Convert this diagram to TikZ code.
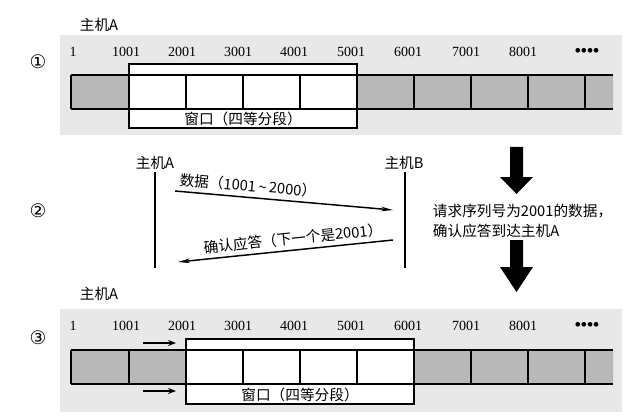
\documentclass[tikz,border=0pt]{standalone}
\usepackage{fontspec}
\setmainfont{Liberation Serif}
\newfontfamily\cjk{Noto Sans CJK SC}
\newfontfamily\sym{DejaVu Sans}
\usetikzlibrary{arrows.meta}
\begin{document}
\begin{tikzpicture}[x=0.75pt,y=-0.75pt,line width=0.9pt,
  bg/.style={fill=black!9},
  used/.style={fill=black!28},
  win/.style={draw,fill=white},
  lbl/.style={font=\cjk\fontsize{11}{13}\selectfont,inner sep=1pt},
  seq/.style={font=\fontsize{10.5}{12}\selectfont,inner sep=1pt},
  stage/.style={font=\sym\fontsize{14}{16}\selectfont,inner sep=1pt},
  dots/.style={font=\bfseries\fontsize{13}{15}\selectfont,inner sep=1pt},
  msg/.style={line width=1.1pt,-{Stealth[length=9pt,width=3.5pt]}},
  slidearrow/.style={line width=1.3pt,-{Stealth[length=6pt,width=4.5pt]}}]
\useasboundingbox (0,0) rectangle (638,417);
% 1: window at 1001
\fill[bg] (60,35) rectangle (622,135);
\node[lbl] (hostA1) at (99,25) {主机A};
\node[stage] (num1) at (38,62) {①};
\foreach \x/\n [count=\i] in {73/1,126/1001,182/2001,238/3001,294/4001,351/5001,408/6001,466/7001,523/8001}
  \node[seq] (sa\i) at (\x,52) {\n};
\node[dots] (dotsa) at (587,52) {••••};
\fill[used] (71,75) rectangle (129,109) (357,75) rectangle (613,109);
\draw[win] (129,64) rectangle (357,128);
\draw (71,75) -- (613,75) (71,109) -- (613,109);
\foreach \x in {71,186,243,300,414,471,528,585}
  \draw (\x,75) -- (\x,109);
\node[lbl] (wina) at (243,119) {窗口（四等分段）};
% 2: data and ack
\node[stage] (num2) at (38,211) {②};
\node[lbl] (hA) at (155,163) {主机A};
\node[lbl] (hB) at (404,163) {主机B};
\coordinate (hAend) at (155,268);
\coordinate (hBend) at (405,268);
\draw (hA.south) -- (hAend);
\draw (hB.south -| hBend) -- (hBend);
\coordinate (d0) at (175,191);
\coordinate (d1) at (393,210);
\draw[msg] (d0) -- node[lbl,pos=0.33,sloped,above=2pt] (dlab) {数据（1001\,\textasciitilde\,2000）} (d1);
\coordinate (k0) at (178,262);
\coordinate (k1) at (393,240);
\draw[msg,{Stealth[length=9pt,width=3.5pt]}-] (k0) -- node[lbl,pos=0.54,sloped,above=2pt] (klab) {确认应答（下一个是2001）} (k1);
\fill (510,147) -- (523,147) -- (523,177) -- (533,177) -- (516.5,194) -- (500,177) -- (510,177) -- cycle;
\fill (510,240) -- (523,240) -- (523,267) -- (533,267) -- (516.5,292) -- (500,267) -- (510,267) -- cycle;
\node[lbl,anchor=west,align=left] (note) at (431,221) {请求序列号为2001的数据，\\[2pt]确认应答到达主机A};
% 3: window slides to 2001
\fill[bg] (60,309) rectangle (622,412);
\node[lbl] (hostA3) at (99,294) {主机A};
\node[stage] (num3) at (38,338) {③};
\foreach \x/\n [count=\i] in {73/1,126/1001,182/2001,238/3001,294/4001,351/5001,408/6001,466/7001,523/8001}
  \node[seq] (sc\i) at (\x,326) {\n};
\node[dots] (dotsc) at (587,326) {••••};
\fill[used] (71,350) rectangle (186,384) (414,350) rectangle (613,384);
\draw[win] (186,339) rectangle (414,404);
\draw (71,350) -- (613,350) (71,384) -- (613,384);
\foreach \x in {71,129,243,300,357,471,528,585}
  \draw (\x,350) -- (\x,384);
\node[lbl] (winc) at (300,395) {窗口（四等分段）};
\coordinate (u0) at (143,343);
\coordinate (u1) at (176,343);
\coordinate (v0) at (143,391);
\coordinate (v1) at (176,391);
\draw[slidearrow] (u0) -- (u1);
\draw[slidearrow] (v0) -- (v1);
\end{tikzpicture}
\end{document}
